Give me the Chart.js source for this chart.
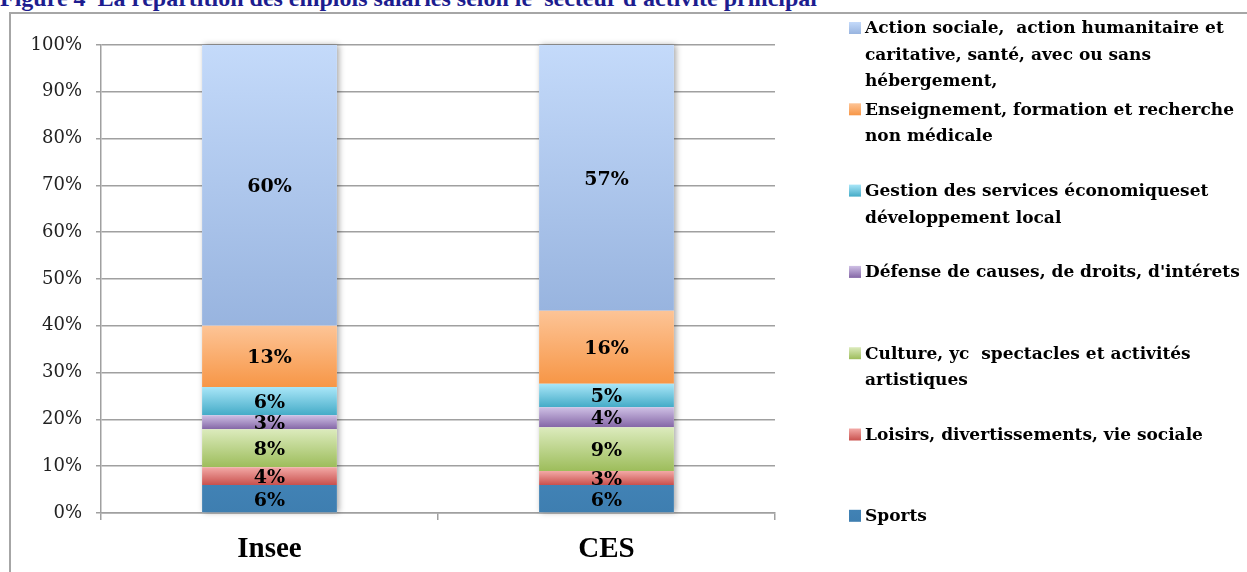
<!DOCTYPE html>
<html lang="fr">
<head>
<meta charset="utf-8">
<title>Répartition des emplois salariés</title>
<script src="https://cdn.jsdelivr.net/npm/chart.js@4/dist/chart.umd.min.js"></script>
<style>
    body { margin: 0; background: #fff; }
    #wrap { position: relative; width: 1247px; height: 572px; overflow: hidden; }
    #title {
        position: absolute; left: 0; top: -15px; white-space: nowrap; line-height: 24px;
        font: bold 24px "Liberation Serif", serif; color: #1d1d8f;
    }
    #frame {
        position: absolute; left: 9px; top: 12px; right: -10px; bottom: -10px;
        border-left: 2px solid #a6a6a6; border-top: 2px solid #a6a6a6;
    }
    #chart { position: absolute; left: 0; top: 0; }
</style>
</head>
<body>
<div id="wrap">
    <div id="title">Figure 4&nbsp; La répartition des emplois salariés selon le&nbsp; secteur d'activité principal</div>
    <div id="frame"></div>
    <canvas id="chart" width="1247" height="572"></canvas>
</div>
<script>
// Categories (x axis)
const categories = ['Insee', 'CES'];

// Series values in %, bottom of the stack first
const sports = [6.0, 6.0];
const loisirs = [3.8, 3.0];
const culture = [8.1, 9.3];
const defense = [3.0, 4.3];
const gestion = [6.0, 5.0];
const enseignement = [13.1, 15.6];
const actionSociale = [60.0, 56.8];

// Legend names (already split into lines, as in the original)
const sectorNames = [
    ['Sports'],
    ['Loisirs, divertissements, vie sociale'],
    ['Culture, yc  spectacles et activités', 'artistiques'],
    ["Défense de causes, de droits, d'intérets"],
    ['Gestion des services économiqueset', 'développement local'],
    ['Enseignement, formation et recherche', 'non médicale'],
    ['Action sociale,  action humanitaire et', 'caritative, santé, avec ou sans', 'hébergement,']
];

// Fill colours, [top, bottom] of each segment gradient
const sectorColors = [
    ['#4182b5', '#3e7eb0'],
    ['#f3aaa7', '#c9514e'],
    ['#dcebbd', '#9dbd5b'],
    ['#cfc0e5', '#8466a6'],
    ['#a9e6f8', '#44abc7'],
    ['#fdc496', '#f79646'],
    ['#c4dafa', '#98b4df']
];

const seriesValues = [sports, loisirs, culture, defense, gestion, enseignement, actionSociale];

const SERIF = '"DejaVu Serif", serif';
const TIMES = '"Liberation Serif", serif';

function segmentFill(i) {
    return function (context) {
        const chart = context.chart;
        const colors = sectorColors[i];
        if (context.dataIndex === undefined || !chart.chartArea) {
            return colors[1];
        }
        const yScale = chart.scales.y;
        const j = context.dataIndex;
        let start = 0;
        for (let k = 0; k < i; k++) start += seriesValues[k][j];
        const end = start + seriesValues[i][j];
        const g = chart.ctx.createLinearGradient(0, yScale.getPixelForValue(end), 0, yScale.getPixelForValue(start));
        g.addColorStop(0, colors[0]);
        g.addColorStop(1, colors[1]);
        return g;
    };
}

// Soft shadow behind each whole stacked bar
const barShadow = {
    id: 'barShadow',
    beforeDatasetsDraw(chart) {
        const ctx = chart.ctx;
        const first = chart.getDatasetMeta(0).data;
        const last = chart.getDatasetMeta(seriesValues.length - 1).data;
        ctx.save();
        ctx.shadowColor = 'rgba(0, 0, 0, 0.35)';
        ctx.shadowBlur = 6;
        ctx.shadowOffsetX = 2;
        ctx.fillStyle = '#ffffff';
        first.forEach((el, j) => {
            const top = last[j].y;
            ctx.fillRect(el.x - el.width / 2, top, el.width, el.base - top);
        });
        ctx.restore();
    }
};

// Percent labels centred in each segment
const segmentLabels = {
    id: 'segmentLabels',
    afterDatasetsDraw(chart) {
        const ctx = chart.ctx;
        ctx.save();
        ctx.font = 'bold 19px ' + SERIF;
        ctx.fillStyle = '#000';
        ctx.textAlign = 'center';
        ctx.textBaseline = 'middle';
        chart.data.datasets.forEach((ds, i) => {
            chart.getDatasetMeta(i).data.forEach((el, j) => {
                ctx.fillText(Math.round(ds.data[j]) + '%', el.x, (el.y + el.base) / 2 + 2);
            });
        });
        ctx.restore();
    }
};

// Legend on the right, top item = top of the stack
const sideLegend = {
    id: 'sideLegend',
    afterDraw(chart) {
        const ctx = chart.ctx;
        ctx.save();
        ctx.font = 'bold 17px ' + SERIF;
        ctx.textAlign = 'left';
        ctx.textBaseline = 'middle';
        const n = chart.data.datasets.length;
        for (let r = 0; r < n; r++) {
            const i = n - 1 - r;
            const yTop = 28 + r * 81.3;
            const c = sectorColors[i];
            const g = ctx.createLinearGradient(0, yTop - 6, 0, yTop + 6);
            g.addColorStop(0, c[0]);
            g.addColorStop(1, c[1]);
            ctx.fillStyle = g;
            ctx.fillRect(849, yTop - 6, 12, 12);
            ctx.fillStyle = '#000';
            sectorNames[i].forEach((line, l) => {
                ctx.fillText(line, 865, yTop + 1 + l * 26.5);
            });
        }
        ctx.restore();
    }
};

const datasets = seriesValues.map((values, i) => ({
    label: sectorNames[i].join(' '),
    data: values,
    backgroundColor: segmentFill(i),
    borderWidth: 0,
    barPercentage: 1,
    categoryPercentage: 0.4
}));

new Chart(document.getElementById('chart'), {
    type: 'bar',
    data: { labels: categories, datasets: datasets },
    options: {
        responsive: false,
        animation: false,
        layout: { padding: { left: 0, right: 472, top: 45, bottom: 0 } },
        plugins: {
            legend: { display: false },
            title: { display: false },
            tooltip: { enabled: false }
        },
        scales: {
            x: {
                stacked: true,
                grid: {
                    offset: true,
                    drawOnChartArea: false,
                    drawTicks: true,
                    tickLength: 7,
                    color: '#a0a0a0',
                    lineWidth: 1.5
                },
                border: { color: '#a0a0a0', width: 1.5 },
                ticks: {
                    color: '#000',
                    padding: 12,
                    font: { family: TIMES, size: 29, weight: 'bold' }
                },
                afterFit(scale) { scale.height = 59; }
            },
            y: {
                stacked: true,
                min: 0,
                max: 100,
                grid: { color: '#a0a0a0', lineWidth: 1.5, tickLength: 5 },
                border: { color: '#a0a0a0', width: 1.5 },
                ticks: {
                    stepSize: 10,
                    color: '#222',
                    padding: 14,
                    font: { family: SERIF, size: 18 },
                    callback: v => v + '%'
                },
                afterFit(scale) { scale.width = 101; }
            }
        }
    },
    plugins: [barShadow, segmentLabels, sideLegend]
});
</script>
</body>
</html>
